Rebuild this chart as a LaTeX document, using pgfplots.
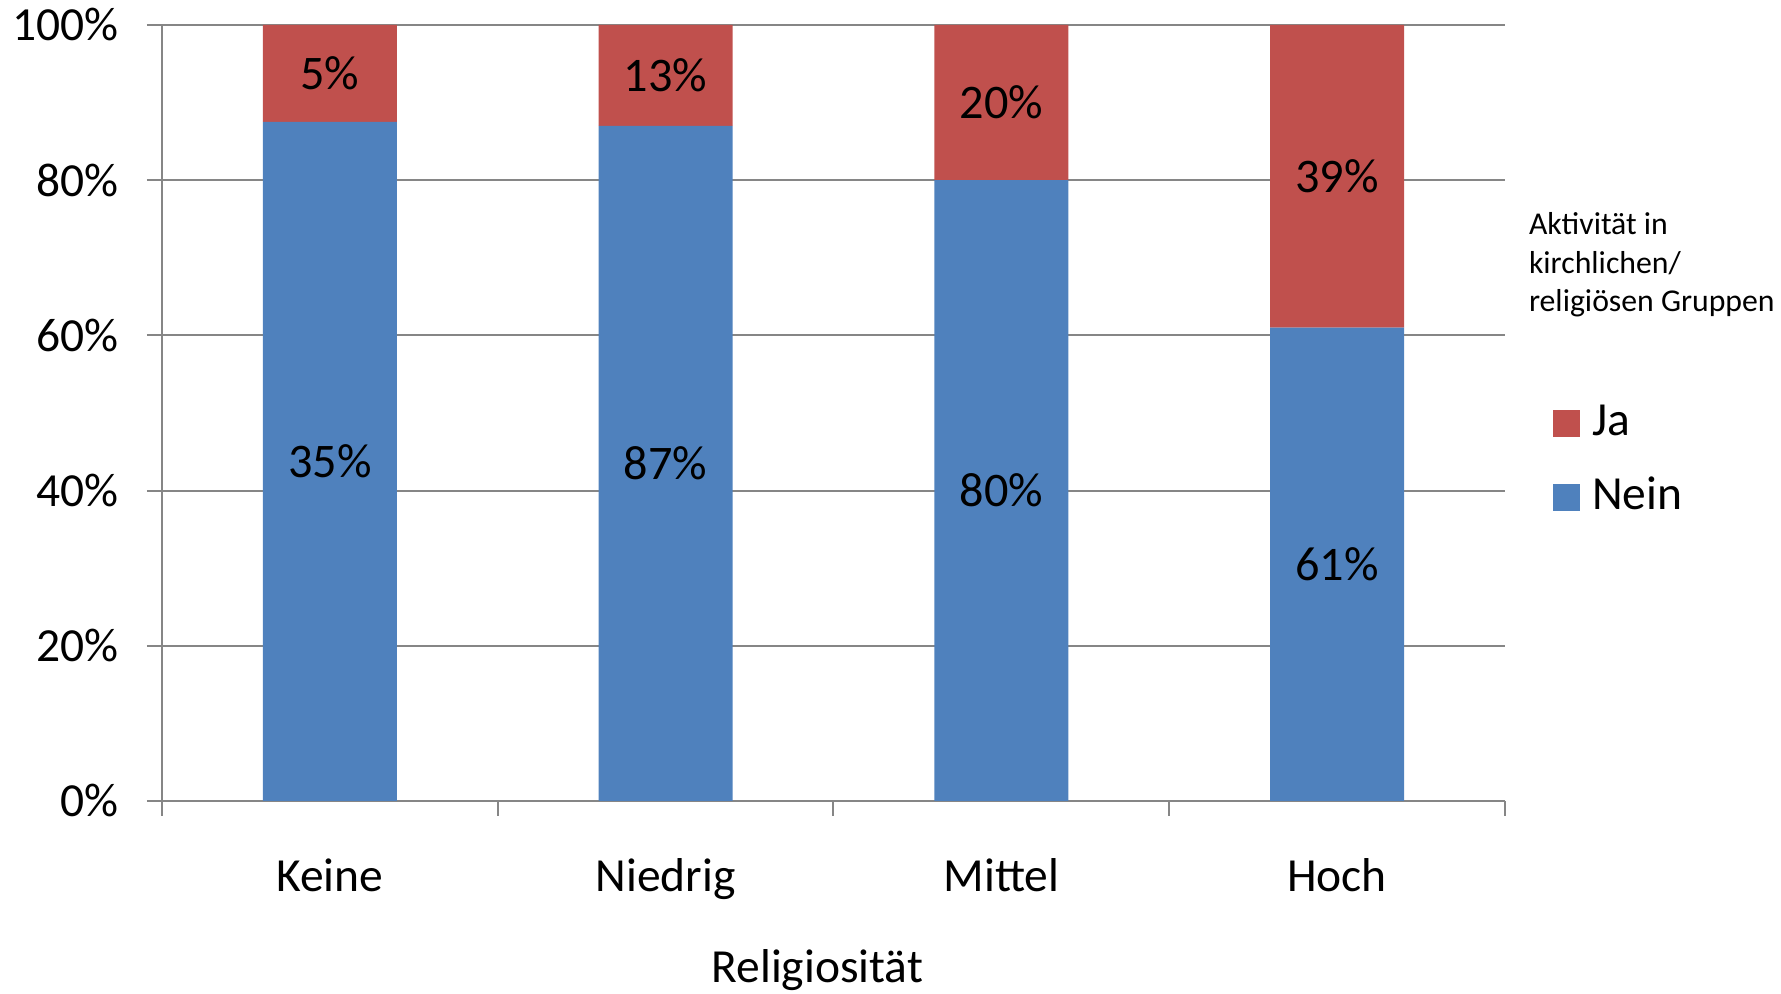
\documentclass[border=0pt]{standalone}
\usepackage{pgfplots}
\pgfplotsset{compat=1.18}
\usepackage{fontspec}
\setmainfont{Carlito}
\definecolor{gridgray}{RGB}{134,134,134}
\definecolor{jared}{RGB}{192,80,77}
\definecolor{neinblue}{RGB}{79,129,189}
\pgfplotsset{sq legend/.style={legend image code/.code={\fill[##1] (0pt,-5.4pt) rectangle (10.8pt,5.4pt);}}}
\begin{document}
\begin{tikzpicture}
\useasboundingbox (-64.8pt,-77.2pt) rectangle (647.6pt,320.4pt);
\begin{axis}[
 at={(0,0)}, anchor=south west,
 scale only axis, width=537.2pt, height=310.4pt,
 ybar stacked, bar width=53.6pt,
 xmin=-0.5, xmax=3.5, ymin=0, ymax=100,
 axis x line*=bottom, axis y line*=left,
 axis line style={-, draw=gridgray, line width=0.8pt},
 xtick={-0.5,0.5,1.5,2.5,3.5},
 xticklabels={Keine,Niedrig,Mittel,Hoch,{}},
 xticklabel style={font=\fontsize{19}{23}\selectfont, anchor=base, xshift=67.15pt, yshift=-30.4pt},
 ytick={0,20,40,60,80,100},
 yticklabel={\pgfmathprintnumber{\tick}\%},
 /pgf/number format/assume math mode=true,
 yticklabel style={font=\fontsize{19}{23}\selectfont, anchor=east, xshift=-7.7pt},
 tick align=outside,
 major tick length=6pt,
 tick style={draw=gridgray, line width=0.8pt},
 ymajorgrids, grid style={draw=gridgray, line width=0.8pt},
 xlabel={Religiosität},
 xlabel style={font=\fontsize{19}{23}\selectfont, at={(axis description cs:0.488,0)}, anchor=center, yshift=-67.6pt},
 nodes near coords={\pgfplotspointmeta\%},
 point meta=explicit symbolic,
 nodes near coords style={anchor=center, font=\fontsize{19.3}{23}\selectfont, text=black},
 legend style={draw=none, fill=none, at={(axis description cs:1.0354,0.4388)}, anchor=west,
   font=\fontsize{19}{23}\selectfont, inner sep=0pt, row sep=12.6pt, column sep=4.8pt,
   nodes={inner sep=0pt, text height=13.5pt, text depth=3.5pt}},
 legend cell align=left,
 reverse legend,
]
\addplot[fill=neinblue, draw=none, sq legend] table[x=x, y=y, meta=lab] {
x y lab
0 87.5 35
1 87 87
2 80 80
3 61 61
};
\addlegendentry{Nein}
\addplot[fill=jared, draw=none, sq legend] table[x=x, y=y, meta=lab] {
x y lab
0 12.5 5
1 13 13
2 20 20
3 39 39
};
\addlegendentry{Ja}
\end{axis}
\node[anchor=north west, align=left, inner sep=0pt, font=\fontsize{12.7}{15.4}\selectfont] at (546.6pt,235.6pt) {Aktivität in\\kirchlichen/\\religiösen Gruppen};
\end{tikzpicture}
\end{document}
